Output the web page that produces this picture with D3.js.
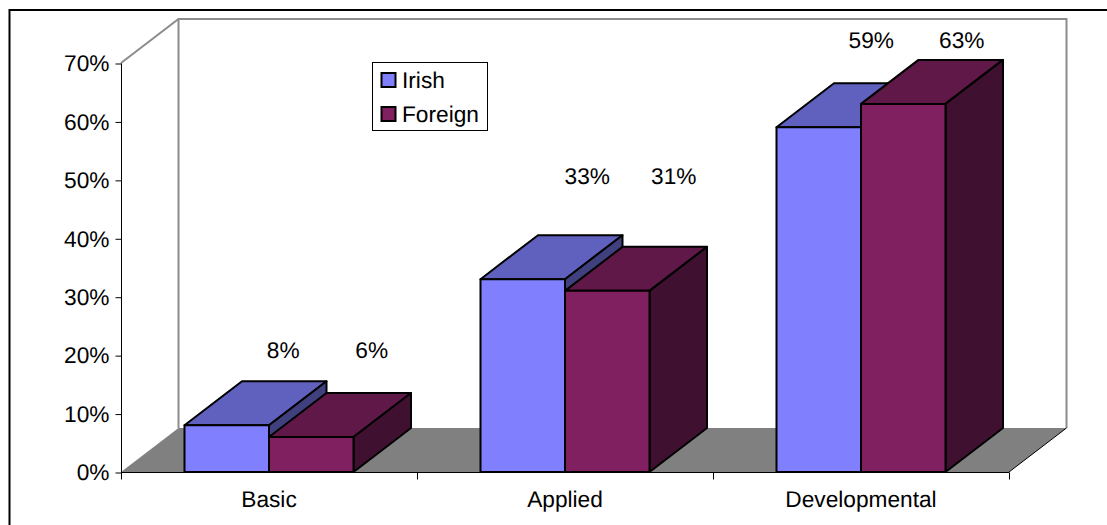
<!DOCTYPE html>
<html>
<head>
<meta charset="utf-8">
<script src="https://cdn.jsdelivr.net/npm/d3@7/dist/d3.min.js"></script>
<style>
  html, body { margin: 0; padding: 0; background: #fff; }
  svg { display: block; }
  text { font-family: "Liberation Sans", Arial, sans-serif; font-size: 22.7px; fill: #000; text-rendering: geometricPrecision; }
</style>
</head>
<body>
<svg id="chart" width="1107" height="525"></svg>
<script>
const categories = ["Basic", "Applied", "Developmental"];
const seriesNames = ["Irish", "Foreign"];
const irishValues = [8, 33, 59];
const foreignValues = [6, 31, 63];
const yTicks = [0, 10, 20, 30, 40, 50, 60, 70];

const seriesColors = {
  Irish:   { front: "#8080ff", top: "#6060bf", side: "#40407f" },
  Foreign: { front: "#802060", top: "#601848", side: "#401030" }
};

const svg = d3.select("#chart");
const fontSize = "22.7px";
const fontFamily = '"Liberation Sans", Arial, sans-serif';

// Front plane of the 3D box and the offset of its back plane
const y = d3.scaleLinear().domain([0, 70]).range([472, 63]);
const x0 = d3.scaleBand().domain(categories).range([121, 1009]);
const x1 = d3.scaleBand().domain(seriesNames).range([-84.5, 84.5]);
const depth = { dx: 57.5, dy: -44 };

const poly = pts => pts.map(p => p.join(",")).join(" ");

// Outer chart frame: only the top and left edges fall inside the page
svg.append("path")
  .attr("d", "M9.5,525V10H1107")
  .attr("fill", "none").attr("stroke", "#000").attr("stroke-width", 2);

// Back wall, side wall and floor
const x3 = 121, x4 = 1009, yB = y(0), yT = y(70);
svg.append("polygon")
  .attr("points", poly([[x3, yB], [x3 + depth.dx, yB + depth.dy], [x4 + depth.dx, yB + depth.dy], [x4, yB]]))
  .attr("fill", "#808080");
svg.append("path")
  .attr("d", `M${x3},${yT}L${x3 + depth.dx},${yT + depth.dy}H${x4 + depth.dx}V${yB + depth.dy}`)
  .attr("fill", "none").attr("stroke", "#8c8c8c").attr("stroke-width", 2);
svg.append("path")
  .attr("d", `M${x3 + depth.dx},${yT + depth.dy}V${yB + depth.dy}`)
  .attr("fill", "none").attr("stroke", "#8c8c8c").attr("stroke-width", 2);
svg.append("line")
  .attr("x1", x4).attr("y1", yB).attr("x2", x4 + depth.dx).attr("y2", yB + depth.dy)
  .attr("stroke", "#000").attr("stroke-width", 1);

// Axes
const yAxis = d3.axisLeft(y).tickValues(yTicks).tickSize(6).tickPadding(6).tickFormat(d => d + "%");
const gy = svg.append("g").attr("transform", `translate(${x3 + 0.5},0.5)`).call(yAxis);
gy.select(".domain").attr("stroke", "#000").attr("d", `M0,${yT}V${yB}`);
gy.selectAll("text").style("font-size", fontSize).style("font-family", fontFamily);

const xAxis = d3.axisBottom(x0).tickSize(0).tickPadding(18.5);
const gx = svg.append("g").attr("transform", `translate(0,${yB + 0.5})`).call(xAxis);
gx.select(".domain").attr("stroke", "#000").attr("d", `M${x3},0H${x4}`);
gx.selectAll("text").style("font-size", fontSize).style("font-family", fontFamily);
gx.selectAll(".boundary")
  .data([...categories.map(c => x0(c)), x4])
  .join("line").attr("class", "boundary")
  .attr("x1", d => d + 0.5).attr("x2", d => d + 0.5)
  .attr("y1", 0).attr("y2", 7).attr("stroke", "#000");

// Bars: each series is drawn as a top face, side face and front face
const barData = [];
categories.forEach((c, i) => {
  barData.push({ category: c, series: "Irish", value: irishValues[i] });
  barData.push({ category: c, series: "Foreign", value: foreignValues[i] });
});

const faceStyle = sel => sel.attr("stroke", "#000").attr("stroke-width", 2).attr("stroke-linejoin", "round");

const bars = svg.append("g").selectAll("g").data(barData).join("g");
bars.each(function (d) {
  const g = d3.select(this);
  const left = x0(d.category) + x0.bandwidth() / 2 + x1(d.series);
  const right = left + x1.bandwidth();
  const top = y(d.value), base = y(0);
  const colors = seriesColors[d.series];
  g.append("polygon")
    .attr("points", poly([[left, top], [left + depth.dx, top + depth.dy], [right + depth.dx, top + depth.dy], [right, top]]))
    .attr("fill", colors.top).call(faceStyle);
  g.append("polygon")
    .attr("points", poly([[right, top], [right + depth.dx, top + depth.dy], [right + depth.dx, base + depth.dy], [right, base]]))
    .attr("fill", colors.side).call(faceStyle);
  g.append("rect")
    .attr("x", left).attr("y", top).attr("width", x1.bandwidth()).attr("height", base - top)
    .attr("fill", colors.front).call(faceStyle);
});

// Value labels share one baseline per category and sit above the back edge
const labelBaseline = { Basic: 358, Applied: 184, Developmental: 48 };
const labelShift = {
  Basic: { Irish: -1, Foreign: 3 },
  Applied: { Irish: 7, Foreign: 9 },
  Developmental: { Irish: -5, Foreign: 1 }
};
svg.append("g").selectAll("text").data(barData).join("text")
  .attr("x", d => x0(d.category) + x0.bandwidth() / 2 + x1(d.series) + x1.bandwidth() / 2 + depth.dx + labelShift[d.category][d.series])
  .attr("y", d => labelBaseline[d.category])
  .attr("text-anchor", "middle")
  .text(d => d.value + "%");

// Legend
const legend = svg.append("g");
legend.append("rect")
  .attr("x", 372.5).attr("y", 62.5).attr("width", 115).attr("height", 68)
  .attr("fill", "#fff").attr("stroke", "#000");
seriesNames.forEach((name, i) => {
  const row = 73 + i * 34;
  legend.append("rect")
    .attr("x", 381.5).attr("y", row).attr("width", 14).attr("height", 14)
    .attr("fill", seriesColors[name].front).attr("stroke", "#000").attr("stroke-width", 2);
  legend.append("text").attr("x", 402).attr("y", row + 15).text(name);
});
</script>
</body>
</html>
